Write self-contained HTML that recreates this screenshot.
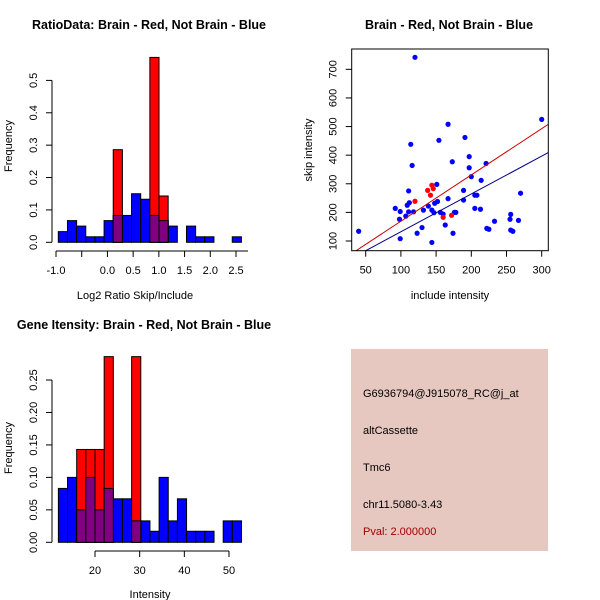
<!DOCTYPE html>
<html><head><meta charset="utf-8"><style>
body{margin:0;background:#fff}
svg{display:block;font-family:"Liberation Sans",sans-serif}
</style></head><body>
<svg id="c" width="600" height="600" xmlns="http://www.w3.org/2000/svg">
<rect width="600" height="600" fill="#fff"/>
<text x="149" y="29" text-anchor="middle" font-size="12.5" font-weight="bold">RatioData: Brain - Red, Not Brain - Blue</text>
<text x="135" y="299" text-anchor="middle" font-size="11">Log2 Ratio Skip/Include</text>
<text transform="translate(12,146) rotate(-90)" text-anchor="middle" font-size="11">Frequency</text>
<text x="449" y="29" text-anchor="middle" font-size="12.5" font-weight="bold">Brain - Red, Not Brain - Blue</text>
<text x="450" y="299" text-anchor="middle" font-size="11">include intensity</text>
<text transform="translate(312,150) rotate(-90)" text-anchor="middle" font-size="11">skip intensity</text>
<text x="144" y="329" text-anchor="middle" font-size="12.5" font-weight="bold">Gene Itensity: Brain - Red, Not Brain - Blue</text>
<text x="150" y="598" text-anchor="middle" font-size="11">Intensity</text>
<text transform="translate(12,448) rotate(-90)" text-anchor="middle" font-size="11">Frequency</text>
<g>
<rect x="351" y="349" width="197" height="202" fill="#e6c8c0"/>
<text x="363" y="397" font-size="11">G6936794@J915078_RC@j_at</text>
<text x="363" y="434" font-size="11">altCassette</text>
<text x="363" y="471" font-size="11">Tmc6</text>
<text x="363" y="508" font-size="11">chr11.5080-3.43</text>
<text x="363" y="535" font-size="11" fill="#a00000">Pval: 2.000000</text>
</g>
</svg>
<script>
const ratioBlue=[0.033,0.067,0.05,0.017,0.017,0.067,0.083,0.083,0.15,0.133,0.083,0.067,0.05,0,0.05,0.017,0.017,0,0,0.017];
const ratioRed=[0,0,0,0,0,0,0.286,0,0,0,0.571,0.143,0,0,0,0,0,0,0,0];
const ratioStart=-0.955, ratioStep=0.178;
const ratioXTicks=[-1,-0.5,0,0.5,1,1.5,2,2.5];
const ratioXLabels=["-1.0","","0.0","0.5","1.0","1.5","2.0","2.5"];
const ratioYTicks=[0,0.1,0.2,0.3,0.4,0.5];
const ratioYLabels=["0.0","0.1","0.2","0.3","0.4","0.5"];

const intBlue=[0.083,0.1,0.05,0.1,0.05,0.083,0.067,0.067,0.033,0.033,0.017,0.1,0.033,0.067,0.017,0.017,0.017,0,0.033,0.033];
const intRed=[0,0,0.143,0.143,0.143,0.286,0,0,0.286,0,0,0,0,0,0,0,0,0,0,0];
const intStart=11.8, intStep=2.05;
const intXTicks=[20,30,40,50];
const intYTicks=[0,0.05,0.1,0.15,0.2,0.25];
const intYLabels=["0.00","0.05","0.10","0.15","0.20","0.25"];

const blueX=[40,120,92,99,98,99,107,109,111,112,111,114,116,118,123,130,132,139,144,144,147,148,151,152,154,156,160,163,167,167,173,174,176,178,189,189,191,197,197,200,205,208,205,213,214,221,222,225,233,255,256,256,259,267,270,300];
const blueY=[134,742,214,203,176,108,187,225,275,234,202,438,364,202,127,147,208,222,95,208,199,232,298,238,452,200,194,156,508,248,377,127,200,200,243,277,462,395,356,325,260,260,214,211,312,371,144,141,169,176,193,138,134,172,267,525];
const redX=[120,138,142,144,146,160,172];
const redY=[239,277,260,295,283,183,190];
const redFit=[7.3,1.618];
const blueFit=[0,1.322];
const scXTicks=[50,100,150,200,250,300];
const scYTicks=[100,200,300,400,500,600,700];

const svg=document.getElementById('c');
const NS='http://www.w3.org/2000/svg';
function mk(tag,attrs,parent){const e=document.createElementNS(NS,tag);for(const k in attrs)e.setAttribute(k,attrs[k]);(parent||svg).appendChild(e);return e;}
function txt(x,y,s,anchor,rot,parent){const t=mk('text',{x:x,y:y,'font-size':11,'text-anchor':anchor||'middle'},parent);if(rot)t.setAttribute('transform','rotate(-90 '+x+' '+y+')');t.textContent=s;return t;}

function hist(name,blue,red,start,step,sx,sy,xt,xl,yt,yl,axisY,axisX,xLineEnd){
  const g=mk('g',{});
  
  
  blue.forEach((v,i)=>{if(v<=0)return;const x0=sx(start+i*step),x1=sx(start+(i+1)*step);
    const r=mk('rect',{x:x0,y:sy(v),width:x1-x0,height:sy(0)-sy(v),fill:'#0000ff',stroke:'#000','stroke-width':1},g);
    
    });
  red.forEach((v,i)=>{if(v<=0)return;const x0=sx(start+i*step),x1=sx(start+(i+1)*step);
    const r=mk('rect',{x:x0,y:sy(v),width:x1-x0,height:sy(0)-sy(v),fill:'#ff0000',stroke:'#000','stroke-width':1},g);
    
    
    const m=Math.min(v,blue[i]);if(m>0){const p=mk('rect',{x:x0,y:sy(m),width:x1-x0,height:sy(0)-sy(m),fill:'#80007f',stroke:'#000','stroke-width':1},g);
    
    }});
  const ya=mk('g',{},g);
  
  
  mk('line',{x1:axisX,x2:axisX,y1:sy(yt[0]),y2:sy(yt[yt.length-1]),stroke:'#000'},ya);
  yt.forEach((v,i)=>{mk('line',{x1:axisX-6,x2:axisX,y1:sy(v),y2:sy(v),stroke:'#000'},ya);txt(axisX-15,sy(v),yl[i],'middle',true,ya);});
  const xa=mk('g',{},g);
  
  
  mk('line',{x1:sx(xt[0]),x2:xLineEnd||sx(xt[xt.length-1]),y1:axisY,y2:axisY,stroke:'#000'},xa);
  xt.forEach((v,i)=>{mk('line',{x1:sx(v),x2:sx(v),y1:axisY,y2:axisY+6,stroke:'#000'},xa);if(xl[i])txt(sx(v),axisY+23,xl[i],'middle',false,xa);});
}
hist('ratio-histogram',ratioBlue,ratioRed,ratioStart,ratioStep,
  v=>56+(v+1)*51.43,v=>242.3-v*323.8,ratioXTicks,ratioXLabels,ratioYTicks,ratioYLabels,251,52,248);
hist('intensity-histogram',intBlue,intRed,intStart,intStep,
  v=>95+(v-20)*4.467,v=>542.3-v*649.2,intXTicks,intXTicks.map(String),intYTicks,intYLabels,551,52);

const sg=mk('g',{});


const X=v=>365.7+(v-50)*0.704, Y=v=>241-(v-100)*0.2861;
const L=351.7,R=548.3,T=49,B=250.7;
mk('clipPath',{id:'clp'},sg);
mk('rect',{x:L,y:T,width:R-L,height:B-T},document.getElementById('clp'));
blueX.forEach((v,i)=>{const c=mk('circle',{cx:X(v),cy:Y(blueY[i]),r:2.6,fill:'#0000ff'},sg);
  
  });
redX.forEach((v,i)=>{const c=mk('circle',{cx:X(v),cy:Y(redY[i]),r:2.6,fill:'#ff0000'},sg);
  
  });
[[redFit,'#cc0000','red-fit-line'],[blueFit,'#00008b','blue-fit-line']].forEach(f=>{
  const xa=0,xb=330;
  const l=mk('line',{x1:X(xa),y1:Y(f[0][0]+f[0][1]*xa),x2:X(xb),y2:Y(f[0][0]+f[0][1]*xb),stroke:f[1],'stroke-width':1,'clip-path':'url(#clp)'},sg);
  
  });
const fr=mk('rect',{x:L,y:T,width:R-L,height:B-T,fill:'none',stroke:'#000'},sg);


scXTicks.forEach(v=>{mk('line',{x1:X(v),x2:X(v),y1:B,y2:B+6,stroke:'#000'},sg);txt(X(v),B+23,String(v),'middle',false,sg);});
scYTicks.forEach(v=>{mk('line',{x1:L-6,x2:L,y1:Y(v),y2:Y(v),stroke:'#000'},sg);txt(L-15,Y(v),String(v),'middle',true,sg);});
</script>
</body></html>
